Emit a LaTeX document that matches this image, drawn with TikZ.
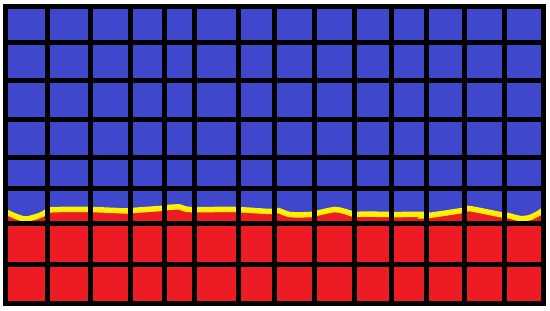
\documentclass[tikz,border=0pt]{standalone}
\usetikzlibrary{calc}

\definecolor{paintblue}{RGB}{63,72,204}
\definecolor{paintred}{RGB}{237,28,36}
\definecolor{paintyellow}{RGB}{255,242,0}

\tikzset{
  gridline/.style={line width=5pt, black},
  sandline/.style={line width=5.5pt, paintyellow, line cap=round}
}

\begin{document}
\begin{tikzpicture}[x=1pt, y=-1pt]
\useasboundingbox (0,0) rectangle (550,311);
\fill[white] (0,0) rectangle (550,311);
% water
\fill[paintblue] (5,6) rectangle (543,303);
% soil below the wave
\fill[paintred] (5,303) -- (5,212) -- plot[smooth] coordinates {(6,212) (15,216) (25,219) (35,217) (43,214) (50,210) (60,209.5) (90,209.5) (128,211) (132,210.5) (160,208.5) (168,207.5) (180,207) (190,209.5) (235,209.5) (270,211.5) (278,210.5) (290,214.5) (310,214.5) (320,212.5) (335,209.5) (345,211.5) (355,214.5) (365,214) (390,214.5) (425,214.5) (428,215.5) (462,210.5) (468,208.5) (480,210.5) (500,214.5) (508,215.5) (520,218.5) (530,217.5) (540,212.5) (543,210)} -- (543,303) -- cycle;
% sand line
\draw[sandline] plot[smooth] coordinates {(6,212) (15,216) (25,219) (35,217) (43,214) (50,210) (60,209.5) (90,209.5) (128,211) (132,210.5) (160,208.5) (168,207.5) (180,207) (190,209.5) (235,209.5) (270,211.5) (278,210.5) (290,214.5) (310,214.5) (320,212.5) (335,209.5) (345,211.5) (355,214.5) (365,214) (390,214.5) (425,214.5) (428,215.5) (462,210.5) (468,208.5) (480,210.5) (500,214.5) (508,215.5) (520,218.5) (530,217.5) (540,212.5) (543,210)};
% grid
\foreach \x in {47,90,130,164,194,238,274,314,354,391,426,464,504}
  \draw[gridline] (\x,6) -- (\x,303);
\foreach \y in {42,80,119,157,188,223,264}
  \draw[gridline] (5,\y) -- (543,\y);
\draw[gridline] (5,6) rectangle (543,303);
\end{tikzpicture}
\end{document}
